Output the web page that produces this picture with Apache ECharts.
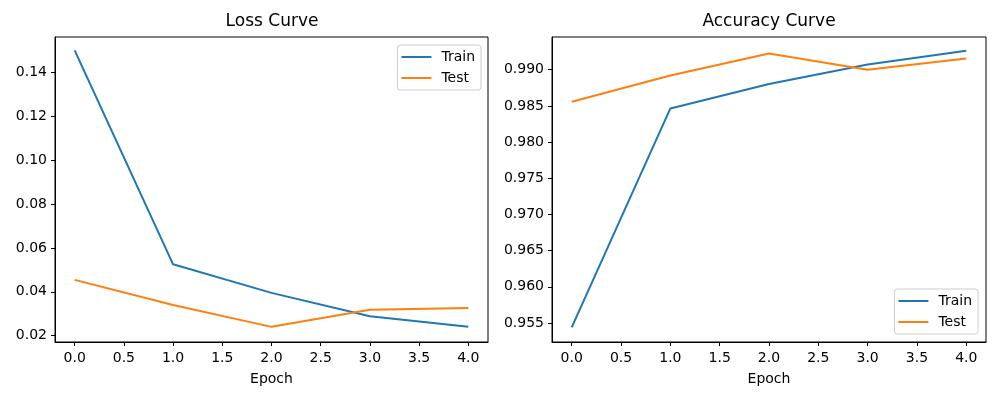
<!DOCTYPE html>
<html>
<head>
<meta charset="utf-8">
<script src="https://cdn.jsdelivr.net/npm/echarts@6/dist/echarts.min.js"></script>
<style>
  html, body { margin: 0; padding: 0; background: #fff; }
  #main { width: 1000px; height: 400px; }
</style>
</head>
<body>
<div id="main"></div>
<script>
// data
var epochs = [0, 1, 2, 3, 4];
var lossTrain = [0.1500, 0.0525, 0.0395, 0.0288, 0.0240];
var lossTest = [0.0454, 0.0340, 0.0240, 0.0318, 0.0326];
var accTrain = [0.9544, 0.98465, 0.98802, 0.99073, 0.99263];
var accTest = [0.98558, 0.98921, 0.99225, 0.99000, 0.99156];

var xTicks = [0, 0.5, 1, 1.5, 2, 2.5, 3, 3.5, 4];
var lossTicks = [0.02, 0.04, 0.06, 0.08, 0.10, 0.12, 0.14];
var accTicks = [0.955, 0.960, 0.965, 0.970, 0.975, 0.980, 0.985, 0.990];

var BLUE = '#1f77b4', ORANGE = '#ff7f0e';
var FONT = 'DejaVu Sans';

function pairs(xs, ys) {
    return xs.map(function (x, i) { return [x, ys[i]]; });
}

function xAxisFor(gridIndex) {
    return {
        type: 'value',
        gridIndex: gridIndex,
        min: -0.2,
        max: 4.2,
        name: 'Epoch',
        nameLocation: 'middle',
        nameGap: 30,
        nameTextStyle: { color: '#000', fontSize: 14, fontFamily: FONT },
        axisLine: { show: true, onZero: false, lineStyle: { color: '#000', width: 1 } },
        axisTick: { show: true, length: 4, customValues: xTicks, lineStyle: { color: '#000' } },
        axisLabel: {
            customValues: xTicks, margin: 9, color: '#000', fontSize: 14, fontFamily: FONT,
            formatter: function (v) { return v.toFixed(1); }
        },
        splitLine: { show: false }
    };
}

function yAxisFor(gridIndex, min, max, ticks, digits) {
    return {
        type: 'value',
        gridIndex: gridIndex,
        min: min,
        max: max,
        axisLine: { show: true, onZero: false, lineStyle: { color: '#000', width: 1 } },
        axisTick: { show: true, length: 4, customValues: ticks, lineStyle: { color: '#000' } },
        axisLabel: {
            customValues: ticks, margin: 8, color: '#000', fontSize: 14, fontFamily: FONT,
            formatter: function (v) { return v.toFixed(digits); }
        },
        splitLine: { show: false }
    };
}

function lineSeries(name, idx, data, color) {
    return {
        name: name,
        type: 'line',
        xAxisIndex: idx,
        yAxisIndex: idx,
        data: data,
        symbol: 'none',
        animation: false,
        lineStyle: { color: color, width: 2 },
        itemStyle: { color: color }
    };
}

// matplotlib-like legend box: short line sample, then the label
function legendAt(pos) {
    var l = {
        data: ['Train', 'Test'],
        orient: 'vertical',
        icon: 'rect',
        itemWidth: 30,
        itemHeight: 2,
        itemGap: 7,
        padding: [5, 6, 5, 4],
        backgroundColor: 'rgba(255,255,255,0.8)',
        borderColor: '#cccccc',
        borderWidth: 1,
        borderRadius: 3,
        textStyle: { color: '#000', fontSize: 14, lineHeight: 14, fontFamily: FONT, padding: [0, 0, 0, 5] }
    };
    for (var k in pos) l[k] = pos[k];
    return l;
}

var myChart = echarts.init(document.getElementById('main'));
var option = {
    backgroundColor: '#fff',
    animation: false,
    title: [
        { text: 'Loss Curve', left: 272, top: 13, textAlign: 'center', padding: 0,
          textStyle: { color: '#000', fontSize: 17, fontWeight: 'normal', fontFamily: FONT } },
        { text: 'Accuracy Curve', left: 769, top: 13, textAlign: 'center', padding: 0,
          textStyle: { color: '#000', fontSize: 17, fontWeight: 'normal', fontFamily: FONT } }
    ],
    legend: [
        legendAt({ right: 519, top: 45 }),
        legendAt({ right: 22, top: 289 })
    ],
    grid: [
        { left: 55, right: 512, top: 37, bottom: 58, show: true, borderColor: '#000', borderWidth: 1 },
        { left: 552, right: 14, top: 37, bottom: 58, show: true, borderColor: '#000', borderWidth: 1 }
    ],
    xAxis: [xAxisFor(0), xAxisFor(1)],
    yAxis: [
        yAxisFor(0, 0.0171, 0.1561, lossTicks, 2),
        yAxisFor(1, 0.95237, 0.99452, accTicks, 3)
    ],
    series: [
        lineSeries('Train', 0, pairs(epochs, lossTrain), BLUE),
        lineSeries('Test', 0, pairs(epochs, lossTest), ORANGE),
        lineSeries('Train', 1, pairs(epochs, accTrain), BLUE),
        lineSeries('Test', 1, pairs(epochs, accTest), ORANGE)
    ]
};
myChart.setOption(option);
</script>
</body>
</html>
